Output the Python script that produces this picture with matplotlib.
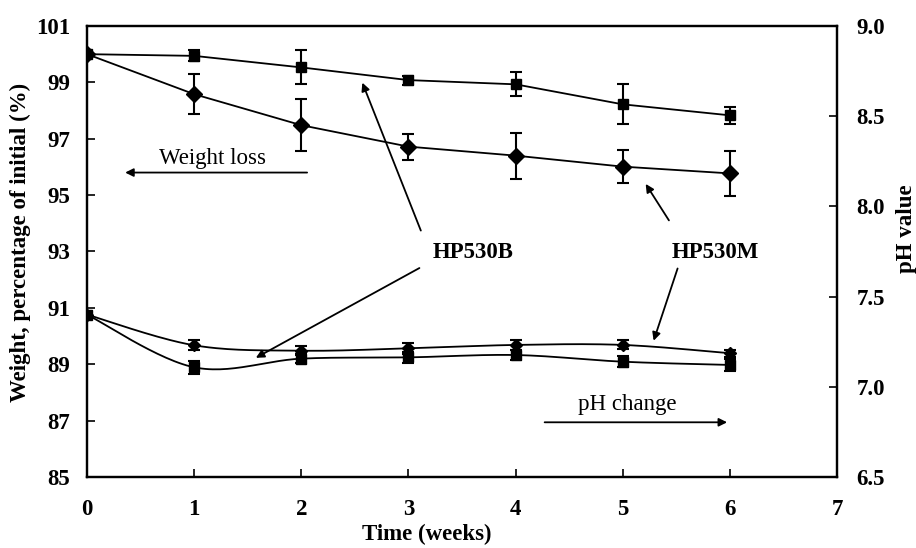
import numpy as np
import matplotlib.pyplot as plt

plt.rcParams['font.family'] = ['Liberation Serif', 'DejaVu Serif']

weeks = [0, 1, 2, 3, 4, 5, 6]

# weight, percentage of initial
wt_b = [100.0, 99.94, 99.53, 99.08, 98.93, 98.22, 97.83]
wt_b_err = [0.0, 0.2, 0.6, 0.16, 0.42, 0.71, 0.31]
wt_m = [100.0, 98.58, 97.48, 96.72, 96.40, 96.01, 95.77]
wt_m_err = [0.0, 0.71, 0.93, 0.46, 0.82, 0.59, 0.81]

# pH value
ph_b = [7.40, 7.108, 7.156, 7.163, 7.176, 7.139, 7.121]
ph_b_err = [0.02, 0.036, 0.025, 0.03, 0.03, 0.03, 0.035]
ph_m = [7.40, 7.23, 7.20, 7.213, 7.232, 7.232, 7.186]
ph_m_err = [0.0, 0.028, 0.025, 0.03, 0.03, 0.025, 0.02]


def smooth(x, y, n=30):
    # bezier smoothing through the points, like a spreadsheet "smoothed line"
    x = np.asarray(x, float)
    y = np.asarray(y, float)
    px, py = [], []
    for i in range(len(x) - 1):
        x0, y0 = x[i], y[i]
        x3, y3 = x[i + 1], y[i + 1]
        xa, ya = (x[i - 1], y[i - 1]) if i > 0 else (x0, y0)
        xb, yb = (x[i + 2], y[i + 2]) if i + 2 < len(x) else (x3, y3)
        x1, y1 = x0 + (x3 - xa) / 6, y0 + (y3 - ya) / 6
        x2, y2 = x3 - (xb - x0) / 6, y3 - (yb - y0) / 6
        t = np.linspace(0, 1, n)
        a, b, c, d = (1 - t) ** 3, 3 * t * (1 - t) ** 2, 3 * t ** 2 * (1 - t), t ** 3
        px.extend(a * x0 + b * x1 + c * x2 + d * x3)
        py.extend(a * y0 + b * y1 + c * y2 + d * y3)
    return px, py


fig = plt.figure(figsize=(9.16, 5.48), dpi=100)
ax = fig.add_axes([0.095, 0.1296, 0.8188, 0.823])
ax2 = ax.twinx()

ekw = dict(color='black', ecolor='black', elinewidth=1.5, capsize=4, capthick=1.5, lw=1.3)
ax.errorbar(weeks, wt_b, yerr=wt_b_err, marker='s', ms=7.5, **ekw)
ax.errorbar(weeks, wt_m, yerr=wt_m_err, marker='D', ms=8.5, **ekw)

ax2.errorbar(weeks, ph_b, yerr=ph_b_err, marker='s', ms=7.5, ls='none',
             color='black', ecolor='black', elinewidth=1.5, capsize=4, capthick=1.5)
ax2.errorbar(weeks, ph_m, yerr=ph_m_err, marker='D', ms=6, ls='none',
             color='black', ecolor='black', elinewidth=1.5, capsize=4, capthick=1.5)
sx, sy = smooth(weeks, ph_b)
ax2.plot(sx, sy, color='black', lw=1.3)
sx, sy = smooth(weeks, ph_m)
ax2.plot(sx, sy, color='black', lw=1.3)

ax.set_xlim(0, 7)
ax.set_ylim(85, 101)
ax2.set_ylim(6.5, 9.0)
ax.set_xticks(range(0, 8))
ax.set_yticks(range(85, 102, 2))
ax2.set_yticks(np.arange(6.5, 9.01, 0.5))
ax2.set_yticklabels(['%.1f' % v for v in np.arange(6.5, 9.01, 0.5)])

for a in (ax, ax2):
    for s in a.spines.values():
        s.set_linewidth(1.6)
    a.tick_params(direction='in', length=6, width=1.2, labelsize=16.5)
ax.tick_params(axis='x', pad=16)
ax.tick_params(axis='y', pad=12)
ax2.tick_params(axis='y', pad=14)
for lab in ax.get_xticklabels() + ax.get_yticklabels() + ax2.get_yticklabels():
    lab.set_fontweight('bold')

ax.set_xlabel('Time (weeks)', fontsize=16.5, fontweight='bold', labelpad=3)
ax.xaxis.label.set_x(0.453)
ax.set_ylabel('Weight, percentage of initial (%)', fontsize=16.5, fontweight='bold', labelpad=4)
ax.yaxis.label.set_y(0.519)
ax2.set_ylabel('pH value', fontsize=16.5, fontweight='bold', labelpad=8)
ax2.yaxis.label.set_y(0.55)

# annotations
arr = dict(arrowstyle='-|>', color='black', lw=1.3, mutation_scale=12)
ax.text(1.17, 96.3, 'Weight loss', fontsize=16.5, ha='center', va='center')
ax.annotate('', xy=(0.33, 95.8), xytext=(2.08, 95.8), arrowprops=arr)
ax.text(5.04, 87.56, 'pH change', fontsize=16.5, ha='center', va='center')
ax.annotate('', xy=(6.0, 86.94), xytext=(4.245, 86.94), arrowprops=arr)

ax.text(3.6, 92.95, 'HP530B', fontsize=16.5, fontweight='bold', ha='center', va='center')
ax.annotate('', xy=(2.56, 99.08), xytext=(3.125, 93.65), arrowprops=arr)
ax.annotate('', xy=(1.553, 89.18), xytext=(3.125, 92.46), arrowprops=arr)

ax.text(5.86, 92.95, 'HP530M', fontsize=16.5, fontweight='bold', ha='center', va='center')
ax.annotate('', xy=(5.20, 95.48), xytext=(5.445, 94.02), arrowprops=arr)
ax.annotate('', xy=(5.28, 89.74), xytext=(5.52, 92.49), arrowprops=arr)

fig.savefig('out.png', dpi=100)
